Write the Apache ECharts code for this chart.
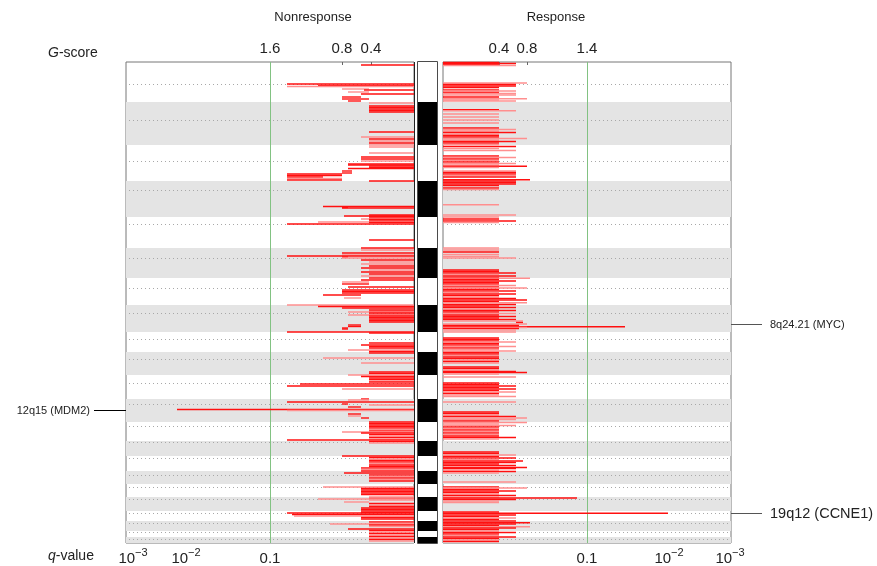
<!DOCTYPE html>
<html><head><meta charset="utf-8">
<script src="https://cdn.jsdelivr.net/npm/echarts@6/dist/echarts.min.js"></script>
<style>html,body{margin:0;padding:0;background:#fff}#c{width:877px;height:566px}</style>
</head><body><div id="c"></div>
<script>
// genome position units (0 = top of chr1, 481 = end of chr22)
const chromBounds = [0,40,83,119,155,186,216,243,270,290,313,337,360,379,394,409,422,435,449,459,469,475,481];
const centromeres = [22,58,99,128,162,196,226,251,277,297,321,342,364,380,396,413,425,437,451,461,470,477];
// [position, score (display units from inner edge), shade 1=red 0=pink, optional start]
const nonresponseLines = [
[3,53,1],[22,127,1],[23.5,96,1],[24.5,127,0],
[27,72,0,45],[28,50,1],[30,66,0,45],[32,53,1],[35,72,1,53],[37,72,1,45],[39,66,1,53],
[41,45,0],[44,45,1],[45.5,45,1],[47,45,1],[48.5,45,1],[50,45,1],
[70,45,1],[75,53,0],[77,45,1],[79,45,0],[81,45,1],[83,45,0],[85,45,0],
[91,45,0],[95,53,1],[97,53,1],[99,53,0],
[102,66,1],[103,66,1],[104,45,1],[105.5,45,1],[106.5,66,1],
[109,72,1,62],[111,72,1,62],
[112,127,1,72],[113.5,127,1,72],[115,127,1,91],[116.5,127,0,72],[118,127,1,72],[119,45,1],
[144.5,91,1],[145.5,72,1,66],[146,72,1],
[153,45,1],[154,70,1],[154.5,45,1],[156,45,1],[157,53,0],[157.5,45,1],[159,45,1],[160,96,0],[160.5,45,1],[162,127,1],
[178,45,1],[186,53,1],[188,53,0],
[191,72,1],[193,72,0],[194,127,1],[195,72,1,66],[196,72,0],
[198,53,1],[200,45,0],[202,53,0],[204,45,1],[206,53,1],[208,45,0],[210,53,1],[212,45,1],[214,53,0],[216,45,1],
[218,53,1],[220,72,0,45],[222,72,1,45],[225,66,1],[228,72,1],[229.5,72,1],[231,72,1],[233,91,1,53],[236,70,0,53],
[243,127,0],[244.5,96,1],[246,72,1],
[248,45,1],[249.5,45,1],[250,66,0],[251,45,1],[252.5,45,1],[253,66,0],[254,45,1],[255.5,45,1],[257,45,1],[258.5,45,1],[260,45,1],
[263,66,1,53],[264.5,66,1,53],[266,72,1,66],[267,72,1,66],
[270,127,1],[271,45,1],
[281,45,1],[283,53,1],[284.5,45,1],[286,45,1],[288,66,0],[289.5,45,1],[291,45,1],
[296,91,0],[301,53,0],
[310,45,1],[311.5,45,1],[313,66,0],[314.5,53,1],[316,45,1],[317.5,45,1],[319,45,0],
[320,45,1],[322,114,1],[324,127,1],[327,72,0],
[337,53,1,45],[338,66,0,45],[340,127,1],[342,72,1,66],[343,45,0],[345,66,1,53],
[347.5,237,1],[348.5,127,0],
[352,66,1,53],[354,66,0,53],[356,53,1,45],
[360,45,1],[361.5,45,1],[363,45,1],[364.5,45,1],[366,45,1],[367.5,45,0],[369,45,1],[370,72,0],[371,53,1],[372.5,45,1],[374,45,0],[375.5,45,1],[377,45,0],[378,127,1],[379.5,45,1],[381,45,0],
[394,72,1],[395.5,45,1],[397,45,0],[398.5,45,1],[400,45,1],[401.5,45,0],[403,45,1],[404.5,45,1],
[406,53,1],[407.5,53,0],[409,53,1],[411,70,1],
[413,45,1],[414.5,45,0],[416,45,1],[417.5,45,0],[419,45,1],
[425,91,0],[426.5,53,1],[428,53,1],[429.5,53,1],[431,53,1],[432.5,53,1],
[435,45,0],[436.5,45,1],[437,96,0],[438,45,0],[440,70,0,45],[441.5,45,1],[443,45,0],[444.5,45,1],
[446,53,1],[447.5,53,1],[449,53,1],[450.5,53,1],[451,127,1],[452.5,122,1],[454,120,0],[455.5,53,1],[457,53,1],
[460,45,1],[461.5,45,0],[462,84,0],[463,45,1],[464.5,45,0],[467,66,1],[468.5,45,1],[470,45,0],[471.5,45,1],[473,45,0],[474.5,45,1],[476,45,0],[477.5,45,1],[479,45,0]
];
const responseLines = [
[0.5,56,1],[1.5,73,1],[2.5,56,1],[3.5,73,0],
[21,84,0],[22.5,73,1],[24,73,1],[25.5,56,1],
[28,56,1],[29,73,0],[30.5,56,1],[31.5,73,0],
[33,73,0],[35,56,1],[36.7,84,0],[38,56,0],[39,73,0],
[47.7,56,1],[48.7,73,0],
[52,56,0],[55,56,0],[58,56,0],[61,56,0],
[66,56,1],[67.5,73,0],[69,56,0],[70.5,73,1],[72,56,0],[73.5,56,1],[75,56,1],[76.5,84,0],[78,56,0],[79.5,73,1],[81,56,1],[82.5,56,0],
[84.5,73,1],[86.5,56,0],[88.5,73,0],
[94,56,1],[95.5,73,0],[97,56,1],[98.5,56,0],[100,56,1],[101.5,73,0],[103,56,0],[104.3,84,1],[105.5,56,0],
[109,73,0],[110.5,73,1],[112,73,1],[113.5,73,0],[115,73,1],[117.7,87,1],
[119,73,1],[120.5,73,1],[122,73,1],[123.5,56,1],[126,56,1],[127.5,56,0],
[142.7,56,0],
[153,73,0],[155,56,0],[157,56,1],[159,73,1],[160.5,56,0],
[186,56,0],[188,56,0],[190,56,1],[192.5,56,0],[194.5,56,0],[196,73,0],
[208,56,1],[209.5,56,1],[211,73,1],[212.5,56,0],[214,73,1],[215.5,56,1],[216.3,87,0],[217.5,56,1],[219,73,1],[220.5,56,1],[222,56,1],[223.5,73,0],[225,56,1],[226,84,0],[227.5,56,1],[229,73,1],[230.5,56,0],[232,73,1],[233.5,56,1],[235,56,0],[236.5,73,1],[238,84,1],
[239.5,56,1],[240.7,84,0],[242.5,73,1],[244,56,1],[245.5,73,1],[247,56,0],[248.5,73,1],[250,56,1],[251.5,73,0],[253,56,1],[254.5,73,1],[256,56,1],[257.5,73,1],
[259,80,0],[260.5,80,1,73],[262,84,0],[263.5,76,1],[264.7,182,1],[265.5,84,0],[266.5,76,1],[268,73,0],[270,73,0],
[276,56,1],[277.5,56,1],[279,56,1],[280,73,0],[281.5,56,1],[283,56,1],[284.5,73,0],[286,56,1],[287.5,56,0],[289,73,0],[290.5,56,1],[292,56,1],[293.5,56,0],[295,56,1],[296.5,56,1],[298,56,0],[299.5,56,1],[301,56,0],
[305,56,1],[306.5,56,1],[308,56,0],[309.5,73,1],[310.5,84,1],[312,56,0],[315,73,0],
[321,56,1],[322.5,56,1],[324,73,1],[325.5,56,1],[327,73,1],[328.5,56,1],[330,73,0],[331.5,56,1],[333,56,0],[334.5,73,0],[340,73,0],
[350,56,1],[351.5,56,1],[353,56,0],[354.5,73,1],[356,84,0],[357.5,73,0],[359,56,1],[360.5,84,0],[362,56,0],[363.5,73,0],[365,56,1],[366.5,56,0],[368,56,1],[369.5,56,0],[371,56,1],[372.5,56,0],[374,56,1],[375.5,73,1],[377,56,0],
[390,56,1],[391.5,56,1],[393,73,0],[394.5,56,1],[396,73,1],[397.5,56,0],[399,80,1],[400.5,73,1],[402,56,1],[403.5,73,1],[405.5,84,1],[406.5,73,1],[408,56,0],[409.5,73,1],[411,56,0],
[420,73,0],
[425,56,1],[426,84,0],[427.5,56,1],[429,73,1],[430.5,56,1],[432,56,0],[433.5,73,1],[435,56,0],[436,134,1],[437.5,73,1],[439,56,0],[440.5,56,0],
[450,56,1],[451.3,225,1],[453,73,1],[454.5,56,1],[456,73,0],[457.5,56,1],[459,73,1],[460.8,87,1],[462,73,1],[463.5,56,1],[464.8,87,0],[466,73,1],[467.5,56,1],[469,56,0],[470.5,73,1],[472,56,1],[473.5,56,0],[475,73,1],[476.5,56,1],[478,56,0],[479.5,56,1]
];
const thresholdScore = [144];
const leftGTicks = [43,72,144], leftGLabels = ['0.4','0.8','1.6'];
const rightGTicks = [56,84,144], rightGLabels = ['0.4','0.8','1.4'];
const leftQTicks = [281,228,144], leftQLabels = ['{b|10}{s|−3}','{b|10}{s|−2}','{n|0.1}'];
const rightQTicks = [144,226,287], rightQLabels = ['{n|0.1}','{b|10}{s|−2}','{b|10}{s|−3}'];
const annoLabels = ['12q15 (MDM2)','8q24.21 (MYC)','19q12 (CCNE1)'];
const annoPos = [347.5, 262, 451];
const annoSide = ['left','right','right'];
const annoFontSize = [11, 11, 14.5];

const PANEL_MAX = 288, GENOME_MAX = chromBounds[chromBounds.length-1];
const FONT = '"Liberation Sans", Arial, sans-serif';
const RED = '#ff1010', PINK = '#ff8f8f';

const grayBands = [], ideo = [];
for (let i = 0; i < chromBounds.length-1; i++) {
  if (i % 2 === 1) grayBands.push([chromBounds[i], chromBounds[i+1]]);
  ideo.push([chromBounds[i], chromBounds[i+1], i % 2]);
}

const chart = echarts.init(document.getElementById('c'), null, {renderer:'canvas'});

function bandItem(params, api) {
  const a = api.coord([0, api.value(0)]), b = api.coord([PANEL_MAX, api.value(1)]);
  return {type:'rect', shape:{x:Math.min(a[0],b[0]), y:a[1], width:Math.abs(b[0]-a[0]), height:b[1]-a[1]}, style:{fill:'#e4e4e4'}};
}
function dotItem(params, api) {
  const a = api.coord([PANEL_MAX-3, api.value(0)]), b = api.coord([1, api.value(0)]);
  return {type:'line', shape:{x1:a[0], y1:Math.round(a[1])+0.5, x2:b[0], y2:Math.round(b[1])+0.5}, style:{stroke:'#a8a8a8', lineWidth:1, lineDash:[1,3]}};
}
function thrItem(params, api) {
  const a = api.coord([api.value(0), 0]), b = api.coord([api.value(0), GENOME_MAX]);
  return {type:'line', shape:{x1:Math.round(a[0])+0.5, y1:a[1], x2:Math.round(b[0])+0.5, y2:b[1]}, style:{stroke:'#82c282', lineWidth:1}};
}
function segItem(params, api) {
  const from = api.value(3);
  const a = api.coord([isNaN(from) ? 0 : from, api.value(0)]), b = api.coord([api.value(1), api.value(0)]);
  return {type:'line', shape:{x1:a[0], y1:a[1], x2:b[0], y2:b[1]}, style:{stroke: api.value(2) ? RED : PINK, lineWidth:1.4, fill:null}};
}
function ideoItem(params, api) {
  const a = api.coord([0, api.value(0)]), b = api.coord([1, api.value(1)]);
  return {type:'rect', shape:{x:a[0], y:a[1], width:b[0]-a[0], height:b[1]-a[1]}, style:{fill: api.value(2) ? '#000' : '#fff'}};
}

const qRich = {
  b:{fontSize:15, fontFamily:FONT, color:'#222', verticalAlign:'bottom'},
  s:{fontSize:11, fontFamily:FONT, color:'#222', verticalAlign:'top', padding:[0,0,8,0]},
  n:{fontSize:15, fontFamily:FONT, color:'#222', padding:[4,0,0,0], verticalAlign:'bottom'}
};
function xAxisDef(grid, pos, ticks, labels, inverse, rich) {
  return {
    type:'value', gridIndex:grid, position:pos, min:0, max:PANEL_MAX, inverse:inverse,
    axisLine:{show:false}, splitLine:{show:false},
    axisTick:{show: pos==='top', inside:true, length:3, customValues:ticks, lineStyle:{color:'#666'}},
    axisLabel:{show:true, customValues:ticks, margin: pos==='top' ? 6 : 4, fontSize:15, fontFamily:FONT, color:'#222', rich:rich,
      formatter:(v)=>{ const k = ticks.indexOf(v); return k>=0 ? labels[k] : ''; }}
  };
}
const yAxisDef = (g)=>({type:'value', gridIndex:g, min:0, max:GENOME_MAX, inverse:true, show:false});

const option = {
  animation:false,
  backgroundColor:'#fff',
  grid:[
    {left:126, top:62, width:288, height:481, show:true, borderColor:'#777', borderWidth:1, backgroundColor:'transparent'},
    {left:443, top:62, width:288, height:481, show:true, borderColor:'#777', borderWidth:1, backgroundColor:'transparent'},
    {left:418, top:62, width:19, height:481, show:true, borderColor:'#111', borderWidth:1.5, backgroundColor:'transparent'}
  ],
  xAxis:[
    xAxisDef(0,'bottom',leftQTicks,leftQLabels,true,qRich),
    xAxisDef(0,'top',leftGTicks,leftGLabels,true,null),
    xAxisDef(1,'bottom',rightQTicks,rightQLabels,false,qRich),
    xAxisDef(1,'top',rightGTicks,rightGLabels,false,null),
    {type:'value', gridIndex:2, min:0, max:1, show:false}
  ],
  yAxis:[yAxisDef(0), yAxisDef(1), yAxisDef(2)],
  series:[
    {type:'custom', xAxisIndex:0, yAxisIndex:0, renderItem:bandItem, data:grayBands, z:1, silent:true},
    {type:'custom', xAxisIndex:0, yAxisIndex:0, renderItem:dotItem, data:centromeres.map(v=>[v]), z:2, silent:true},
    {type:'custom', xAxisIndex:0, yAxisIndex:0, renderItem:thrItem, data:thresholdScore.map(v=>[v]), z:3, silent:true},
    {type:'custom', name:'Nonresponse', xAxisIndex:0, yAxisIndex:0, renderItem:segItem, dimensions:['pos','score','shade','start'], encode:{x:1,y:0}, data:nonresponseLines, z:4, silent:true},
    {type:'custom', xAxisIndex:2, yAxisIndex:1, renderItem:bandItem, data:grayBands, z:1, silent:true},
    {type:'custom', xAxisIndex:2, yAxisIndex:1, renderItem:dotItem, data:centromeres.map(v=>[v]), z:2, silent:true},
    {type:'custom', xAxisIndex:2, yAxisIndex:1, renderItem:thrItem, data:thresholdScore.map(v=>[v]), z:3, silent:true},
    {type:'custom', name:'Response', xAxisIndex:2, yAxisIndex:1, renderItem:segItem, dimensions:['pos','score','shade','start'], encode:{x:1,y:0}, data:responseLines, z:4, silent:true},
    {type:'custom', xAxisIndex:4, yAxisIndex:2, renderItem:ideoItem, data:ideo, z:2, silent:true}
  ]
};
chart.setOption(option);

const italic = {i:{fontStyle:'italic', fontSize:14, fontFamily:FONT, fill:'#222'}};
const graphics = [
  {type:'text', style:{text:'Nonresponse', x:313, y:17, font:'13px '+FONT, fill:'#222', align:'center', verticalAlign:'middle'}},
  {type:'text', style:{text:'Response', x:556, y:17, font:'13px '+FONT, fill:'#222', align:'center', verticalAlign:'middle'}},
  {type:'text', style:{text:'{i|G}-score', x:48, y:53, font:'14px '+FONT, fill:'#222', align:'left', verticalAlign:'middle', rich:italic}},
  {type:'text', style:{text:'{i|q}-value', x:48, y:556, font:'14px '+FONT, fill:'#222', align:'left', verticalAlign:'middle', rich:italic}}
];
annoLabels.forEach((t, i) => {
  const left = annoSide[i] === 'left';
  const y = Math.round(chart.convertToPixel({yAxisIndex: left ? 0 : 1}, annoPos[i])) + 0.5;
  const edge = chart.convertToPixel({xAxisIndex: left ? 0 : 2}, PANEL_MAX);
  const x2 = left ? edge - 32 : edge + 31;
  graphics.push({type:'line', shape:{x1:edge, y1:y, x2:x2, y2:y}, style:{stroke: left ? '#000' : '#555', lineWidth:1}});
  graphics.push({type:'text', style:{text:t, x: left ? x2 - 4 : x2 + 8, y:y, font: annoFontSize[i]+'px '+FONT, fill:'#222', align: left ? 'right' : 'left', verticalAlign:'middle'}});
});
// darker inner edge of the left panel, as in the reference
const innerEdge = chart.convertToPixel({xAxisIndex:0}, 0);
graphics.push({type:'line', z:100, shape:{x1:Math.round(innerEdge)+0.5, y1:chart.convertToPixel({yAxisIndex:0}, 0), x2:Math.round(innerEdge)+0.5, y2:chart.convertToPixel({yAxisIndex:0}, GENOME_MAX)}, style:{stroke:'#222', lineWidth:1}});
chart.setOption({graphic: graphics});
</script></body></html>
